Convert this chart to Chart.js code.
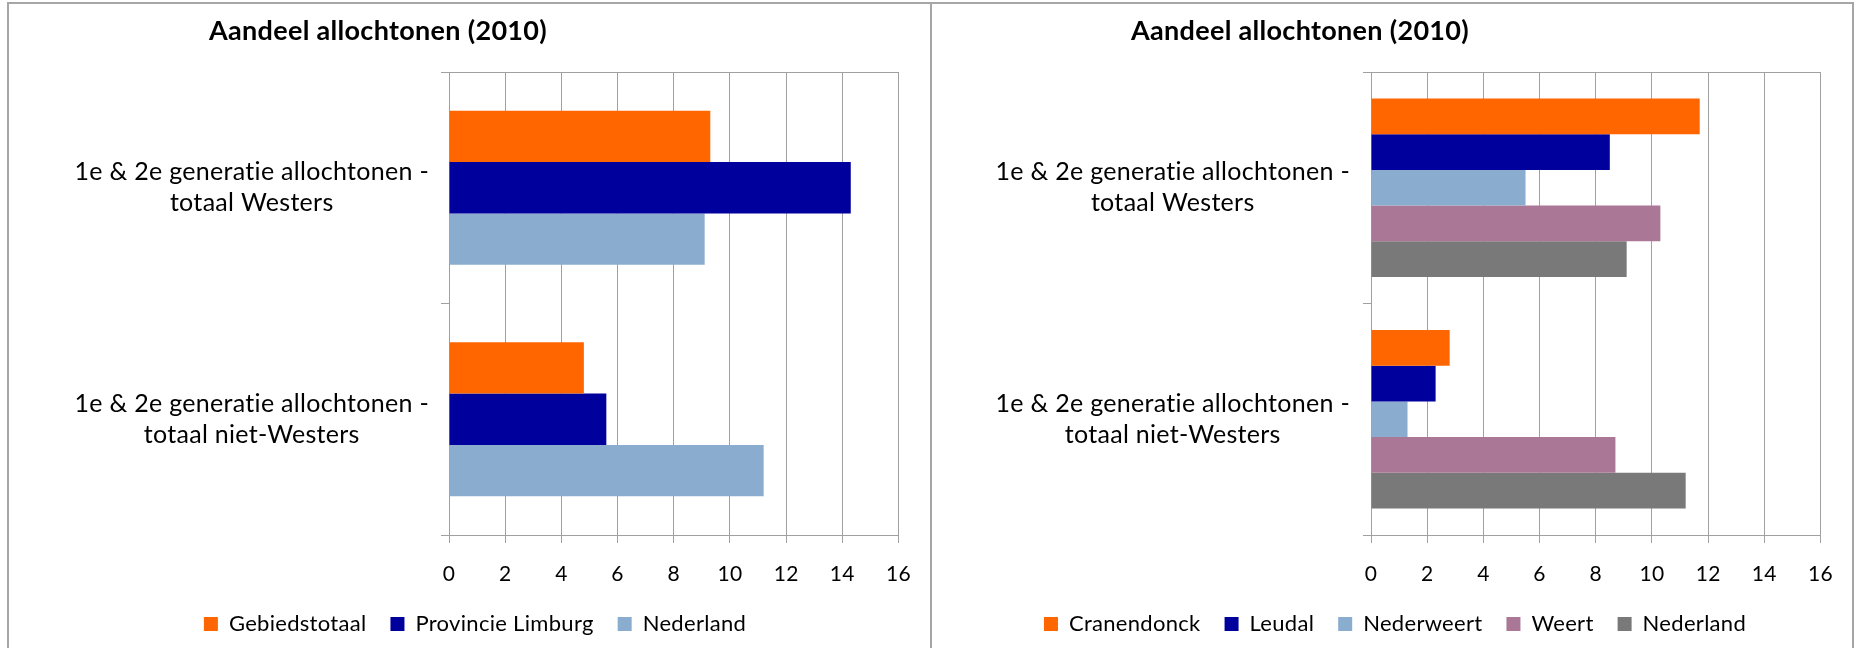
<!DOCTYPE html>
<html>
<head>
<meta charset="utf-8">
<script src="https://cdn.jsdelivr.net/npm/chart.js@4.4.1/dist/chart.umd.min.js"></script>
<style>
  body { margin: 0; background: #fff; width: 1854px; height: 648px; overflow: hidden; position: relative; }
  .panel { position: absolute; top: 2px; height: 660px; box-sizing: border-box; border: 2px solid #a6a6a6; border-bottom: none; }
  #p1 { left: 7px; width: 925px; }
  #p2 { left: 932px; width: 922px; border-left: none; }
  canvas { display: block; }
</style>
</head>
<body>
<div class="panel" id="p1"><canvas id="chartLeft" width="921" height="644"></canvas></div>
<div class="panel" id="p2"><canvas id="chartRight" width="920" height="644"></canvas></div>
<script>
// data
const titleText = 'Aandeel allochtonen (2010)';
const categories = [
  ['1e & 2e generatie allochtonen -', 'totaal Westers'],
  ['1e & 2e generatie allochtonen -', 'totaal niet-Westers']
];
const xTicks = [0, 2, 4, 6, 8, 10, 12, 14, 16];

// left chart
const gebiedstotaal = [9.3, 4.8];
const provincieLimburg = [14.3, 5.6];
const nederlandLeft = [9.1, 11.2];

// right chart
const cranendonck = [11.7, 2.8];
const leudal = [8.5, 2.3];
const nederweert = [5.5, 1.3];
const weert = [10.3, 8.7];
const nederlandRight = [9.1, 11.2];

const ORANGE = '#ff6600', NAVY = '#00009c', LIGHTBLUE = '#8aacce', MAUVE = '#aa7896', GREY = '#797979';
const GRID = '#a0a0a0';
const FONT = 'Lato, "Open Sans", sans-serif';

//small letter spacing, also stops the "ti" ligature of Lato
const spacing = {
  id: 'spacing',
  beforeUpdate(chart) { chart.ctx.letterSpacing = '0.3px'; },
  beforeDraw(chart) { chart.ctx.letterSpacing = '0.3px'; }
};

//title drawn at a fixed spot, like the original sheet
const panelTitle = {
  id: 'panelTitle',
  afterDraw(chart, args, opts) {
    const ctx = chart.ctx;
    ctx.save();
    ctx.font = 'bold 27px ' + FONT;
    ctx.fillStyle = '#000';
    ctx.textAlign = 'center';
    ctx.textBaseline = 'middle';
    ctx.fillText(opts.text, opts.x, opts.y);
    ctx.restore();
  }
};

function makeChart(id, datasets, cfg) {
  new Chart(document.getElementById(id), {
    type: 'bar',
    data: { labels: categories, datasets: datasets },
    plugins: [spacing, panelTitle],
    options: {
      indexAxis: 'y',
      responsive: false,
      animation: false,
      categoryPercentage: cfg.catPct,
      barPercentage: 1,
      layout: { padding: { top: 68, left: cfg.padLeft, right: cfg.padRight, bottom: 3 } },
      scales: {
        x: {
          min: 0, max: 16,
          afterBuildTicks: s => { s.ticks = xTicks.map(v => ({ value: v })); },
          afterFit: s => { s.height = 54; },
          ticks: { font: { family: FONT, size: 21 }, color: '#000', padding: 19 },
          grid: { color: GRID, lineWidth: 1, tickLength: 8 },
          border: { color: GRID, width: 1 }
        },
        y: {
          afterFit: s => { s.width = cfg.yWidth; },
          ticks: { font: { family: FONT, size: 25, lineHeight: 1.24 }, color: '#000', crossAlign: 'center', padding: cfg.labelPad },
          grid: {
            offset: true,
            color: c => (c.index === 1 ? 'rgba(0,0,0,0)' : GRID),
            tickColor: GRID,
            tickLength: 8,
            lineWidth: 1
          },
          border: { color: GRID, width: 1 }
        }
      },
      plugins: {
        panelTitle: { text: titleText, x: cfg.titleX, y: 27 },
        title: { display: false },
        tooltip: { enabled: false },
        legend: {
          position: 'bottom',
          labels: {
            font: { family: FONT, size: 22 },
            color: '#000',
            boxWidth: 14,
            boxHeight: 14,
            padding: 24
          }
        }
      }
    }
  });
}

makeChart('chartLeft', [
  { label: 'Gebiedstotaal', data: gebiedstotaal, backgroundColor: ORANGE, borderWidth: 0 },
  { label: 'Provincie Limburg', data: provincieLimburg, backgroundColor: NAVY, borderWidth: 0 },
  { label: 'Nederland', data: nederlandLeft, backgroundColor: LIGHTBLUE, borderWidth: 0 }
], { catPct: 0.665, padLeft: 42, padRight: 31, yWidth: 398, labelPad: 12, titleX: 369 });

makeChart('chartRight', [
  { label: 'Cranendonck', data: cranendonck, backgroundColor: ORANGE, borderWidth: 0 },
  { label: 'Leudal', data: leudal, backgroundColor: NAVY, borderWidth: 0 },
  { label: 'Nederweert', data: nederweert, backgroundColor: LIGHTBLUE, borderWidth: 0 },
  { label: 'Weert', data: weert, backgroundColor: MAUVE, borderWidth: 0 },
  { label: 'Nederland', data: nederlandRight, backgroundColor: GREY, borderWidth: 0 }
], { catPct: 0.77, padLeft: 36, padRight: 30, yWidth: 403, labelPad: 13, titleX: 368 });
</script>
</body>
</html>
